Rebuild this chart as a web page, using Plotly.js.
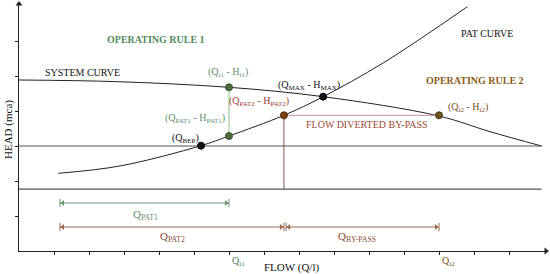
<!DOCTYPE html>
<html>
<head>
<meta charset="utf-8">
<script src="https://cdn.plot.ly/plotly-3.0.1.min.js"></script>
<style>html,body{margin:0;padding:0;background:#fff;}#chart{width:550px;height:274px;}</style>
</head>
<body>
<div id="chart"></div>
<script>
// ---- data (flow units on x, head units on y) ----
const systemQ = [0, 2.74, 6.0, 8.69, 12.0, 13.46, 14.93];
const systemH = [4.886, 4.84, 4.677, 4.409, 3.857, 3.409, 3.0];
const patQ = [1.12, 2.89, 5.2, 6.0, 7.57, 8.69, 10.4, 12.81];
const patH = [2.22, 2.43, 3.009, 3.286, 3.877, 4.409, 5.37, 6.98];
const pointNames = ['QBEP', 'QPAT1', 'Qi1', 'QPAT2', 'QMAX', 'Qi2'];
const pointQ = [5.2, 6.0, 6.0, 7.57, 8.69, 12.0];
const pointH = [3.009, 3.286, 4.677, 3.877, 4.409, 3.877];
const refLineH = [3.0, 1.77];   // two horizontal reference lines
const refLineQ = [0, 14.93];
const dimStartQ = 1.17;          // left end of the flow dimension lines
const qpat1DimH = 1.371;
const qpat2DimH = 0.686;
const xTicks = [1,2,3,4,5,6,7,8,9,10,11,12,13,14];
const yTicks = [1,2,3,4,5,6];
const xMax = 15.057, yMax = 7.057;

const greenDark = '#4d6b3c', greenLight = '#9ccc9c';
const olive = '#6b5222';
const serif = 'Liberation Serif, serif';
const idx = n => pointNames.indexOf(n);

const traces = [];
const line = (x, y, color, width, shape) => ({x: x, y: y, mode: 'lines', line: {color: color, width: width, shape: shape || 'linear'}, hoverinfo: 'skip', cliponaxis: false});
// reference horizontal lines
refLineH.forEach(h => traces.push(line(refLineQ, [h, h], '#555', 1.2)));
// system curve & PAT curve
traces.push(line(systemQ, systemH, '#222', 1, 'spline'));
traces.push(line(patQ, patH, '#222', 1, 'spline'));
// vertical green line Qi1 -> QPAT1
traces.push(line([pointQ[idx('Qi1')], pointQ[idx('QPAT1')]], [pointH[idx('Qi1')], pointH[idx('QPAT1')]], greenLight, 1.2));
// horizontal by-pass line QPAT2 -> Qi2
traces.push(line([pointQ[idx('QPAT2')], pointQ[idx('Qi2')]], [pointH[idx('QPAT2')], pointH[idx('Qi2')]], '#c9908a', 1));
// vertical drop from QPAT2 to lower reference line
traces.push(line([pointQ[idx('QPAT2')], pointQ[idx('QPAT2')]], [pointH[idx('QPAT2')], refLineH[1]], '#7a5a50', 1));

// dimension lines with arrowheads and end ticks
const dimGreen = '#6f946f', dimBrown = '#9a6a50';
function dim(q0, q1, h, color) {
  traces.push(line([q0, q1], [h, h], color, 1));
  traces.push(line([q0, q0], [h - 0.12, h + 0.12], color, 1));
  traces.push(line([q1, q1], [h - 0.12, h + 0.12], color, 1));
  traces.push({x: [q0 + 0.08, q1 - 0.08], y: [h, h], mode: 'markers', cliponaxis: false, hoverinfo: 'skip',
    marker: {symbol: ['triangle-left', 'triangle-right'], size: 5, color: color}});
}
dim(dimStartQ, pointQ[idx('QPAT1')], qpat1DimH, dimGreen);
dim(dimStartQ, pointQ[idx('QPAT2')], qpat2DimH, dimBrown);
dim(pointQ[idx('QPAT2')] + 0.06, pointQ[idx('Qi2')], qpat2DimH, dimBrown);

// axis arrowheads
traces.push({x: [0, xMax], y: [yMax, 0], mode: 'markers', cliponaxis: false, hoverinfo: 'skip',
  marker: {symbol: ['triangle-up', 'triangle-right'], size: 6, color: '#222'}});

// points
const pointFill = ['#111', greenDark, greenDark, '#7a3f12', '#111', olive];
const pointLine = ['#000', '#3a5530', '#3a5530', '#5a2a08', '#000', '#4a3a12'];
traces.push({x: pointQ, y: pointH, mode: 'markers', cliponaxis: false, hoverinfo: 'skip',
  marker: {size: 7, color: pointFill, line: {color: pointLine, width: 1}}});

// text labels placed in paper coordinates from pixel positions
const pxp = p => (p - 19) / 527;
const pyp = p => (251 - p) / 247;
function txt(x, y, text, color, size, bold, extra) {
  return Object.assign({x: pxp(x), y: pyp(y), xref: 'paper', yref: 'paper', text: bold ? '<b>' + text + '</b>' : text, showarrow: false,
    font: {family: serif, size: size, color: color}, xanchor: 'center', yanchor: 'middle'}, extra || {});
}
const ann = [
  txt(156, 39, 'OPERATING RULE 1', '#4f8a5e', 10, true),
  txt(487, 33, 'PAT CURVE', '#111', 10, false),
  txt(475, 80, 'OPERATING RULE 2', '#8c5e22', 10, true),
  txt(82, 72, 'SYSTEM CURVE', '#111', 10, false),
  txt(228, 72, '(Q<sub>i1</sub> - H<sub>i1</sub>)', '#5f9070', 10, false),
  txt(195, 119, '(Q<sub>PAT1</sub> - H<sub>PAT1</sub>)', '#5f9070', 10, false),
  txt(185, 138, '(Q<sub>BEP</sub>)', '#111', 10, false),
  txt(259, 102, '(Q<sub>PAT2</sub> - H<sub>PAT2</sub>)', '#a04030', 10, false),
  txt(309, 85, '(Q<sub>MAX</sub> - H<sub>MAX</sub>)', '#111', 10, false),
  txt(468, 107, '(Q<sub>i2</sub> - H<sub>i2</sub>)', '#7a5020', 10, false),
  txt(367, 124, 'FLOW DIVERTED BY-PASS', '#9a4a35', 10, false),
  txt(145, 215, 'Q<sub>PAT1</sub>', '#5f8a68', 11, false),
  txt(172, 237, 'Q<sub>PAT2</sub>', '#8a4a30', 11, false),
  txt(357, 237, 'Q<sub>BY-PASS</sub>', '#8a4a30', 11, false),
  txt(238, 261, 'Q<sub>i1</sub>', '#4f7a58', 10, false),
  txt(448, 261, 'Q<sub>i2</sub>', '#7a5020', 10, false),
  txt(291, 267, 'FLOW (Q/l)', '#111', 11, false),
  txt(8, 130, 'HEAD (mca)', '#111', 11, false, {textangle: -90})
];

const layout = {
  width: 550, height: 274,
  margin: {l: 19, r: 4, t: 4, b: 23, pad: 0},
  paper_bgcolor: '#fff', plot_bgcolor: '#fff',
  showlegend: false,
  xaxis: {range: [0, xMax], showgrid: false, zeroline: false, showline: true, linecolor: '#222', linewidth: 1,
    ticks: 'outside', ticklen: 3, tickcolor: '#222', tickvals: xTicks, showticklabels: false, fixedrange: true},
  yaxis: {range: [0, yMax], showgrid: false, zeroline: false, showline: true, linecolor: '#222', linewidth: 1,
    ticks: 'outside', ticklen: 3, tickcolor: '#222', tickvals: yTicks, showticklabels: false, fixedrange: true},
  annotations: ann
};
Plotly.newPlot('chart', traces, layout, {staticPlot: true, displayModeBar: false});
</script>
</body>
</html>
